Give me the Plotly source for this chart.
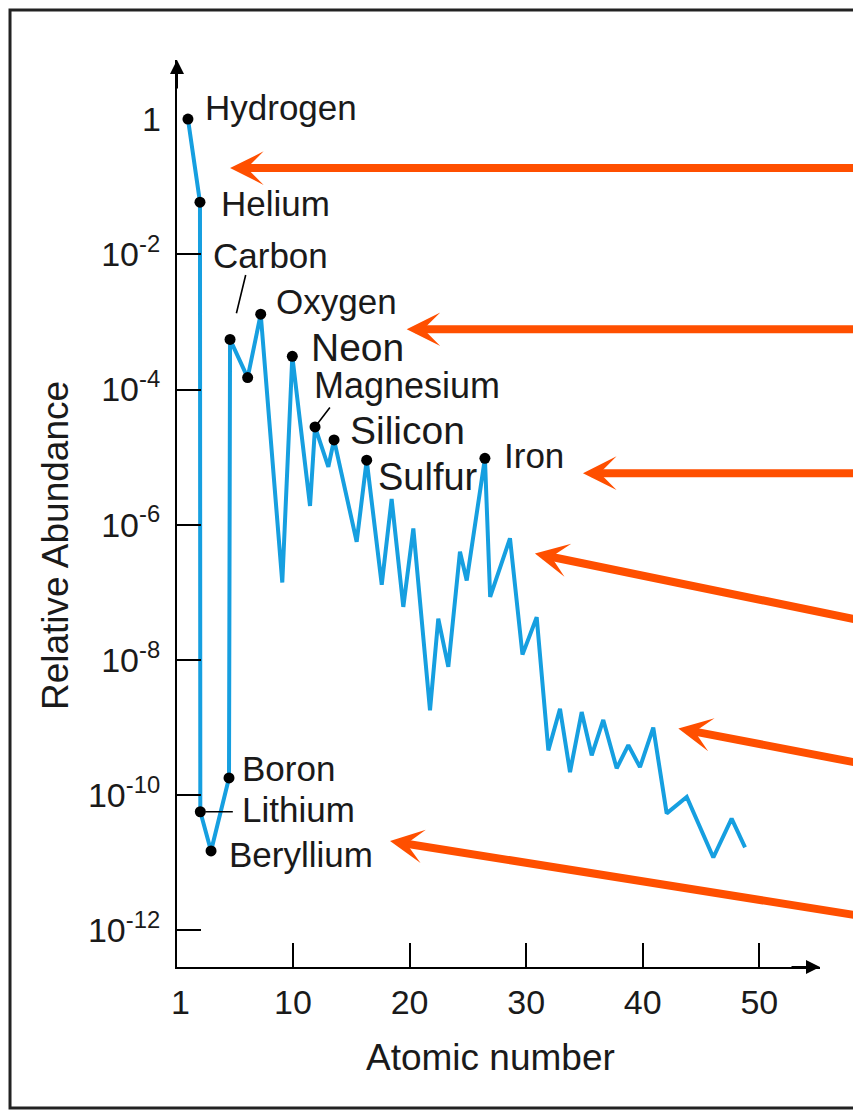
import numpy as np
import plotly.graph_objects as go

# Vertices of the abundance curve, as drawn (position on the atomic-number axis).
atomic_pos = [0.99, 2.02, 2.05, 2.97, 4.51, 4.60, 6.11, 7.23, 9.08, 9.94,
              11.46, 11.89, 13.03, 13.52, 15.46, 16.32, 17.61, 18.46, 19.46, 20.32,
              21.75, 22.46, 23.32, 24.32, 24.90, 26.46, 26.91, 28.61, 29.68, 30.90,
              31.90, 32.90, 33.76, 34.76, 35.62, 36.61, 37.76, 38.76, 39.76, 40.90,
              42.05, 43.77, 46.05, 47.62, 48.77]
abundance = [1.0, 5.9e-2, 5.7e-11, 1.5e-11, 1.8e-10, 5.5e-4, 1.5e-4, 1.3e-3, 1.4e-7, 3.1e-4,
             1.9e-6, 2.8e-5, 7.2e-6, 1.8e-5, 5.6e-7, 9.0e-6, 1.3e-7, 2.4e-6, 6.1e-8, 8.8e-7,
             1.8e-9, 4.1e-8, 7.9e-9, 4.0e-7, 1.5e-7, 9.6e-6, 8.6e-8, 6.3e-7, 1.2e-8, 4.3e-8,
             4.6e-10, 1.9e-9, 2.2e-10, 1.7e-9, 3.9e-10, 1.3e-9, 2.5e-10, 5.5e-10, 2.6e-10, 1.0e-9,
             5.4e-11, 9.4e-11, 1.2e-11, 4.5e-11, 1.7e-11]

# Points marked with a dot (index into the arrays above).
dot_index = [0, 1, 2, 3, 4, 5, 6, 7, 9, 11, 13, 15, 25]

# Named elements and the vertex each name belongs to.
element_names = ["Hydrogen", "Helium", "Lithium", "Beryllium", "Boron", "Carbon",
                 "Oxygen", "Neon", "Magnesium", "Silicon", "Sulfur", "Iron"]
element_index = [0, 1, 2, 3, 4, 5, 7, 9, 11, 13, 15, 25]

# Axis ticks.
x_tick_vals = [10, 20, 30, 40, 50]
y_tick_vals = [1e-2, 1e-4, 1e-6, 1e-8, 1e-10, 1e-12]
y_tick_text = ["10<sup>-2</sup>", "10<sup>-4</sup>", "10<sup>-6</sup>",
               "10<sup>-8</sup>", "10<sup>-10</sup>", "10<sup>-12</sup>"]

# Orange pointer arrows: where each one points (axis position, abundance).
arrow_x = [4.60, 19.75, 34.87, 30.75, 43.05, 18.32]
arrow_y = [0.188, 7.8e-4, 5.8e-6, 3.76e-7, 9.7e-10, 2.1e-11]

BLUE = "#169fe0"
ORANGE = "#ff4f00"
TEXT = "#1a1a1a"
FONT = "Liberation Sans, Arial, sans-serif"

# Label placement (pixel offsets from the point, font size).
label_style = {
    "Hydrogen": (15, 12, 35),
    "Helium": (19, -1, 35),
    "Carbon": (-19, 84, 35),
    "Oxygen": (13, 13, 35),
    "Neon": (17, 9, 39),
    "Magnesium": (-3, 41, 36),
    "Silicon": (14, 9, 39),
    "Sulfur": (9, -17, 38),
    "Iron": (17, 3, 35),
    "Boron": (11, 9, 35),
    "Lithium": (40, 2, 35),
    "Beryllium": (16, -4, 35),
}

# Pointer tails, pixel offsets from the tip.
arrow_tail = [(645, 0), (470, 0), (290, 0), (340, 67), (195, 35), (485, 75)]

fig = go.Figure()

fig.add_trace(go.Scatter(
    x=atomic_pos, y=abundance, mode="lines",
    line=dict(color=BLUE, width=4), hoverinfo="skip",
))
fig.add_trace(go.Scatter(
    x=[atomic_pos[i] for i in dot_index],
    y=[abundance[i] for i in dot_index],
    mode="markers", marker=dict(color="black", size=11), hoverinfo="skip",
))

annotations = []

# Element names.
for name, idx in zip(element_names, element_index):
    dx, dy, size = label_style[name]
    annotations.append(dict(
        x=atomic_pos[idx], y=np.log10(abundance[idx]), text=name,
        showarrow=False, xanchor="left", yanchor="middle",
        xshift=dx, yshift=dy, font=dict(family=FONT, size=size, color=TEXT),
    ))

# Leader lines for Carbon, Lithium and Magnesium.
for idx, ax, ay, standoff in [(5, 16, -66, 27), (2, 34, 0, 5), (11, 16, -21, 4)]:
    annotations.append(dict(
        x=atomic_pos[idx], y=np.log10(abundance[idx]), text="",
        showarrow=True, arrowhead=0, arrowwidth=1.6, arrowcolor="black",
        ax=ax, ay=ay, standoff=standoff,
    ))

# Orange pointers.
for x, y, (ax, ay) in zip(arrow_x, arrow_y, arrow_tail):
    annotations.append(dict(
        x=x, y=np.log10(y), text="", showarrow=True,
        arrowhead=3, arrowsize=0.7, arrowwidth=8, arrowcolor=ORANGE,
        ax=ax, ay=ay,
    ))

# Arrow heads on the axes.
annotations.append(dict(x=0, y=1, xref="paper", yref="paper", text="", showarrow=True,
                        arrowhead=2, arrowsize=1.4, arrowwidth=2, arrowcolor="black",
                        ax=0, ay=30))
annotations.append(dict(x=1, y=0, xref="paper", yref="paper", text="", showarrow=True,
                        arrowhead=2, arrowsize=1.4, arrowwidth=2, arrowcolor="black",
                        ax=-30, ay=0))

# The "1" labels sitting at the axis origin and at the top of the y axis.
annotations.append(dict(x=0, y=0, xref="paper", yref="paper", text="1",
                        showarrow=False, xanchor="center", yanchor="top",
                        xshift=3, yshift=-14, font=dict(family=FONT, size=34, color=TEXT)))
annotations.append(dict(x=0, y=0, xref="paper", yref="y", text="1",
                        showarrow=False, xanchor="right", yanchor="middle",
                        xshift=-14, font=dict(family=FONT, size=34, color=TEXT)))

# Axis titles.
annotations.append(dict(x=-0.19, y=0.465, xref="paper", yref="paper",
                        xanchor="center", yanchor="middle",
                        text="Relative Abundance", textangle=-90, showarrow=False,
                        font=dict(family=FONT, size=37, color=TEXT)))
annotations.append(dict(x=0.487, y=-0.100, xref="paper", yref="paper",
                        xanchor="center", yanchor="middle",
                        text="Atomic number", showarrow=False,
                        font=dict(family=FONT, size=37, color=TEXT)))

# The page body adds an 8px offset, so the figure is 8px smaller and margins shift.
fig.update_layout(
    width=853, height=1105,
    margin=dict(l=169, r=41, t=52, b=146, pad=0),
    plot_bgcolor="white", paper_bgcolor="white",
    showlegend=False,
    annotations=annotations,
    xaxis=dict(
        range=[0.05, 55.2], tickvals=x_tick_vals,
        showline=True, linecolor="black", linewidth=2,
        ticks="inside", ticklen=24, tickwidth=2, tickcolor="black",
        showgrid=False, zeroline=False, ticklabelstandoff=4,
        tickfont=dict(family=FONT, size=34, color=TEXT),
    ),
    yaxis=dict(
        type="log", range=[-12.54, 0.873],
        tickvals=y_tick_vals, ticktext=y_tick_text,
        showline=True, linecolor="black", linewidth=2,
        ticks="inside", ticklen=24, tickwidth=2, tickcolor="black",
        showgrid=False, zeroline=False, ticklabelstandoff=8,
        tickfont=dict(family=FONT, size=34, color=TEXT),
    ),
    # Frame round the whole picture (right side falls off the page).
    shapes=[dict(
        type="rect", xref="paper", yref="paper",
        x0=-0.2597, x1=1.09, y0=-0.1555, y1=1.0551,
        line=dict(color="#222", width=3), fillcolor="rgba(0,0,0,0)",
    )],
)

fig.write_html("out.html", config={"displayModeBar": False})
